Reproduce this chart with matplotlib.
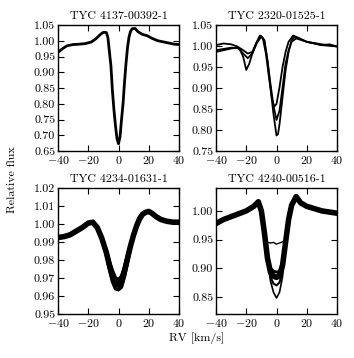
import matplotlib
matplotlib.use('Agg')
import matplotlib.pyplot as plt

plt.rcParams['font.family'] = 'serif'
plt.rcParams['font.serif'] = ['cmr10']
plt.rcParams['mathtext.fontset'] = 'cm'
plt.rcParams['axes.formatter.use_mathtext'] = True
plt.rcParams['font.size'] = 8.6

# TYC 4137-00392-1
v1 = [-40, -37, -34, -30, -26, -22, -18, -15, -12, -10, -8, -7, -6, -5, -4, -3, -2, -1, 0,
      1, 2, 3, 4, 5, 6, 7, 8, 9, 11, 13, 16, 19, 22, 26, 30, 34, 37, 40]
f1 = [0.963, 0.975, 0.984, 0.988, 0.989, 0.991, 0.996, 1.006, 1.020, 1.027, 1.026, 1.010,
      0.965, 0.920, 0.840, 0.780, 0.730, 0.690, 0.673, 0.695, 0.750, 0.800, 0.870, 0.930,
      0.980, 1.013, 1.030, 1.038, 1.039, 1.028, 1.020, 1.016, 1.008, 1.000, 0.996, 0.992,
      0.989, 0.988]

# TYC 2320-01525-1
v2a = [-40, -35, -30, -26, -24, -22, -20, -18, -16, -13, -10, -8, -6, -4, -2, 0, 1, 2, 4,
       6, 8, 10, 12, 15, 20, 25, 30, 35, 40]
f2a = [0.986, 0.990, 0.994, 0.996, 0.990, 0.974, 0.943, 0.958, 0.982, 1.010, 1.023, 1.014,
       0.966, 0.902, 0.838, 0.787, 0.790, 0.814, 0.878, 0.942, 0.986, 1.014, 1.022, 1.018,
       1.010, 1.006, 1.002, 1.004, 0.999]
v2b = [-40, -30, -25, -22, -19, -16, -13, -10, -8, -6, -4, -2, 0, 2, 4, 6, 8, 10, 13, 20,
       30, 40]
f2b = [0.990, 0.996, 0.995, 0.982, 0.971, 0.982, 1.007, 1.023, 1.012, 0.966, 0.910, 0.858,
       0.824, 0.846, 0.902, 0.958, 0.990, 1.010, 1.018, 1.010, 1.002, 0.999]
v2c = [-40, -35, -30, -26, -22, -19, -16, -13, -11, -9, -7, -5, -3, -1.5, 0, 2, 4, 6, 8,
       11, 14, 20, 30, 40]
f2c = [1.002, 1.006, 1.004, 0.999, 0.990, 0.982, 0.986, 1.010, 1.025, 1.018, 0.982, 0.926,
       0.874, 0.856, 0.862, 0.902, 0.950, 0.986, 1.010, 1.025, 1.020, 1.010, 1.004, 0.999]

# TYC 4234-01631-1
v3 = [-40, -36, -32, -28, -24, -20, -17, -14, -11, -8, -6, -4, -2, 0, 2, 4, 6, 8, 10, 12,
      14, 16, 18, 20, 22, 25, 28, 32, 36, 40]
f3 = [0.9925, 0.993, 0.994, 0.996, 0.998, 1.0005, 1.001, 0.998, 0.992, 0.984, 0.977,
      0.971, 0.967, 0.966, 0.968, 0.974, 0.981, 0.988, 0.994, 0.999, 1.003, 1.0055,
      1.0065, 1.007, 1.006, 1.004, 1.0025, 1.0015, 1.001, 1.001]
v3c = [-8, -6, -4, -2, 0, 2, 4, 6, 8]
f3lo = [0.983, 0.975, 0.968, 0.964, 0.9635, 0.965, 0.971, 0.979, 0.987]
f3hi = [0.985, 0.979, 0.974, 0.970, 0.969, 0.971, 0.976, 0.983, 0.989]

# TYC 4240-00516-1
v4 = [-40, -35, -30, -25, -20, -15, -12, -10, -8, -6, -4, -2, 0, 2, 4, 6, 8, 10, 13, 16,
      20, 25, 30, 35, 40]
f4 = [0.978, 0.985, 0.990, 0.995, 1.000, 1.008, 1.016, 1.000, 0.962, 0.918, 0.893, 0.886,
      0.884, 0.887, 0.905, 0.945, 0.985, 1.010, 1.025, 1.014, 1.008, 1.004, 1.000, 0.998,
      0.996]
v4c = [-10, -8, -6, -4, -2, 0, 2, 4, 6, 8, 10]
f4deep = [1.0, 0.962, 0.915, 0.878, 0.858, 0.848, 0.858, 0.885, 0.935, 0.985, 1.010]
f4mid = [1.0, 0.962, 0.915, 0.885, 0.873, 0.870, 0.875, 0.895, 0.940, 0.985, 1.010]
f4up = [1.0, 0.962, 0.920, 0.900, 0.895, 0.893, 0.895, 0.910, 0.948, 0.985, 1.010]
f4shal = [1.0, 0.962, 0.945, 0.944, 0.945, 0.942, 0.944, 0.946, 0.950, 0.985, 1.010]

fs = 8.6
fig = plt.figure(figsize=(3.54, 3.58), dpi=100)
W, H = 354., 358.
ax1 = fig.add_axes([58/W, 1-151/H, 121/W, 126/H])
ax2 = fig.add_axes([216/W, 1-151/H, 121/W, 126/H])
ax3 = fig.add_axes([58/W, 1-314/H, 121/W, 126/H])
ax4 = fig.add_axes([216/W, 1-314/H, 121/W, 126/H])

ax1.plot(v1, f1, 'k-', lw=2)
ax1.set_ylim(0.65, 1.05)
ax1.set_yticks([0.65, 0.70, 0.75, 0.80, 0.85, 0.90, 0.95, 1.00, 1.05])
ax1.set_title('TYC 4137-00392-1', fontsize=fs, pad=4)

ax2.plot(v2a, f2a, 'k-', lw=1.3)
ax2.plot(v2b, f2b, 'k-', lw=1.3)
ax2.plot(v2c, f2c, 'k-', lw=1.3)
ax2.set_ylim(0.75, 1.05)
ax2.set_yticks([0.75, 0.80, 0.85, 0.90, 0.95, 1.00, 1.05])
ax2.set_title('TYC 2320-01525-1', fontsize=fs, pad=4)

ax3.plot(v3, f3, 'k-', lw=4)
ax3.plot(v3c, f3lo, 'k-', lw=2.5)
ax3.plot(v3c, f3hi, 'k-', lw=2.5)
ax3.set_ylim(0.95, 1.02)
ax3.set_yticks([0.95, 0.96, 0.97, 0.98, 0.99, 1.00, 1.01, 1.02])
ax3.set_title('TYC 4234-01631-1', fontsize=fs, pad=4)

ax4.plot(v4, f4, 'k-', lw=4)
ax4.plot(v4c, f4deep, 'k-', lw=1.2)
ax4.plot(v4c, f4mid, 'k-', lw=1.5)
ax4.plot(v4c, f4up, 'k-', lw=2)
ax4.plot(v4c, f4shal, 'k-', lw=1)
ax4.set_ylim(0.82, 1.04)
ax4.set_yticks([0.85, 0.90, 0.95, 1.00])
ax4.set_title('TYC 4240-00516-1', fontsize=fs, pad=4)

for ax in [ax1, ax2, ax3, ax4]:
    ax.set_xlim(-40, 40)
    ax.set_xticks([-40, -20, 0, 20, 40])
    ax.yaxis.set_major_formatter(matplotlib.ticker.FormatStrFormatter('%.2f'))
    ax.tick_params(direction='in', top=True, right=True, length=4, width=0.8,
                   labelsize=fs, pad=2)
    for s in ax.spines.values():
        s.set_linewidth(1)

fig.text(12/W, 1-180/H, 'Relative flux', rotation=90, ha='center', va='center', fontsize=fs)
fig.text(197/W, 1-338/H, 'RV [km/s]', ha='center', va='center', fontsize=fs)

fig.savefig('out.png', dpi=100)
